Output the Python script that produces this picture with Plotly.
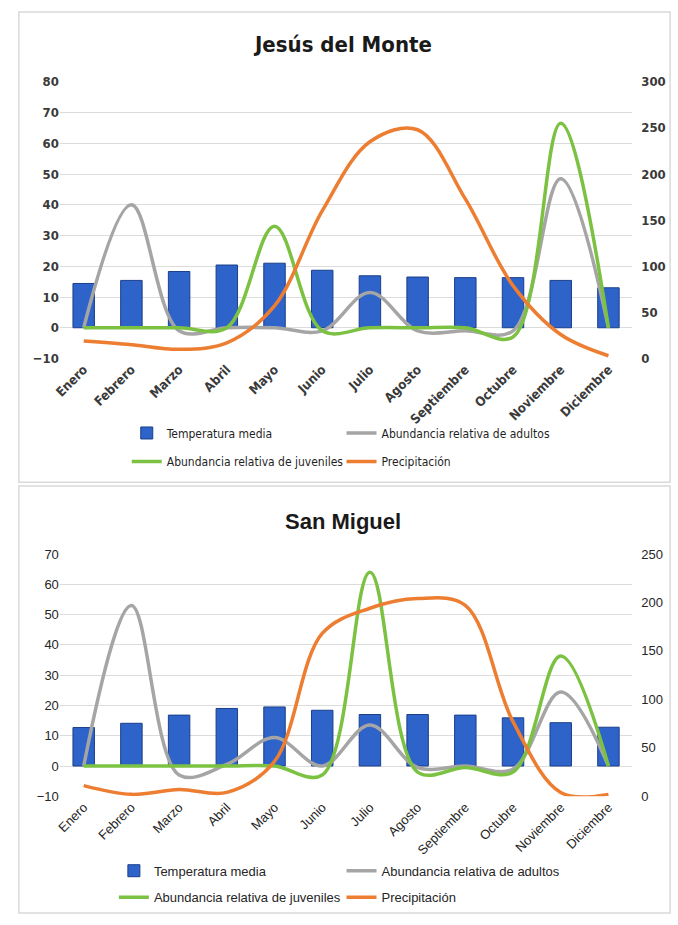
import plotly.graph_objects as go

W, H = 678, 925

meses = ["Enero", "Febrero", "Marzo", "Abril", "Mayo", "Junio", "Julio",
         "Agosto", "Septiembre", "Octubre", "Noviembre", "Diciembre"]

# Jesús del Monte
jm_temp = [14.4, 15.4, 18.3, 20.4, 21.0, 18.7, 16.9, 16.5, 16.3, 16.3, 15.4, 13.0]
jm_adultos = [0, 40, -1, 0, 0, -1, 11.5, -1, -1, -1, 48.5, 0]
jm_juveniles = [0, 0, 0, 0, 33, -1, 0, 0, 0, -3, 66.5, 0]
jm_precip = [19, 15, 10, 17, 57, 160, 235, 248, 173, 79, 26, 3]

# San Miguel
sm_temp = [12.7, 14.1, 16.8, 19.0, 19.5, 18.4, 17.0, 17.0, 16.8, 15.9, 14.3, 12.8]
sm_adultos = [0, 53, -3, 0.5, 9.4, 0, 13.5, -0.5, 0, -1, 24.4, 0]
sm_juveniles = [0, 0, 0, 0, 0, -3, 64, -2, -0.5, -2, 36.3, 0]
sm_precip = [11, 2, 7, 4, 36, 168, 194, 204, 197, 77, 4, 2]

names = ["Temperatura media", "Abundancia relativa de adultos",
         "Abundancia relativa de juveniles", "Precipitación"]

C_BAR = "#2E63C9"
C_BAR_LINE = "#1B3F88"
C_GRAY = "#A5A5A5"
C_GREEN = "#7CC242"
C_ORANGE = "#ED7D31"
GRID = "#DCDCDC"
TXT = "#3A3A3A"

NARROW = "DejaVu Sans Condensed, Liberation Sans Narrow, Liberation Sans, Arial"
ARIAL = "Liberation Sans, Arial"


def px_x(px):
    return px / W


def px_y(py):
    return 1 - py / H


fig = go.Figure()


def add_panel(temp, adultos, juveniles, precip, xa, ya, ya2, legs):
    fig.add_trace(go.Bar(x=meses, y=temp, name=names[0], xaxis=xa, yaxis=ya,
                         width=0.45, showlegend=True,
                         marker=dict(color=C_BAR, line=dict(color=C_BAR_LINE, width=1)),
                         legend=legs[0]))
    fig.add_trace(go.Scatter(x=meses, y=adultos, name=names[1], xaxis=xa, yaxis=ya,
                             mode="lines", showlegend=True,
                             line=dict(color=C_GRAY, width=3.5, shape="spline", smoothing=1.0),
                             legend=legs[1]))
    fig.add_trace(go.Scatter(x=meses, y=juveniles, name=names[2], xaxis=xa, yaxis=ya,
                             mode="lines", showlegend=True,
                             line=dict(color=C_GREEN, width=3.5, shape="spline", smoothing=1.0),
                             legend=legs[2]))
    fig.add_trace(go.Scatter(x=meses, y=precip, name=names[3], xaxis=xa, yaxis=ya2,
                             mode="lines", showlegend=True,
                             line=dict(color=C_ORANGE, width=3.5, shape="spline", smoothing=1.0),
                             legend=legs[3]))


add_panel(jm_temp, jm_adultos, jm_juveniles, jm_precip, "x", "y", "y2",
          ["legend", "legend2", "legend3", "legend4"])
add_panel(sm_temp, sm_adultos, sm_juveniles, sm_precip, "x2", "y3", "y4",
          ["legend5", "legend6", "legend7", "legend8"])

xdom = [px_x(53.4), px_x(631.8)]
top_dom = [px_y(357.3), px_y(76)]
bot_dom = [px_y(802.3), px_y(556)]

tick_top = dict(family=NARROW, size=13, color=TXT, weight="bold")
tick_bot = dict(family=ARIAL, size=13, color="#262626")


def leg(textx, y, font):
    return dict(orientation="h", x=px_x(textx - 43), xanchor="left", y=px_y(y),
                yanchor="middle", bgcolor="rgba(0,0,0,0)", font=font,
                itemwidth=30, tracegroupgap=0, visible=True)


leg_font_top = dict(family=NARROW, size=12, color="#1f1f1f")
leg_font_bot = dict(family=ARIAL, size=13, color="#262626")

fig.update_layout(
    width=W, height=H,
    margin=dict(l=0, r=0, t=0, b=0),
    paper_bgcolor="white", plot_bgcolor="white",
    barmode="overlay",
    showlegend=True,
    xaxis=dict(domain=xdom, anchor="y", type="category", tickangle=-45,
               tickfont=tick_top, showgrid=False, showline=False, ticks=""),
    yaxis=dict(domain=top_dom, range=[-10, 80], dtick=10, tickfont=tick_top,
               gridcolor=GRID, zeroline=False, showline=False),
    yaxis2=dict(overlaying="y", side="right", anchor="x", range=[0, 300], dtick=50,
                tickfont=tick_top, showgrid=False, zeroline=False, showline=False,
                ticklabelstandoff=8),
    xaxis2=dict(domain=xdom, anchor="y3", type="category", tickangle=-45,
                tickfont=tick_bot, showgrid=False, showline=False, ticks=""),
    yaxis3=dict(domain=bot_dom, range=[-10, 70], dtick=10, tickfont=tick_bot,
                gridcolor=GRID, zeroline=False, showline=False),
    yaxis4=dict(overlaying="y3", side="right", anchor="x2", range=[0, 250], dtick=50,
                tickfont=tick_bot, showgrid=False, zeroline=False, showline=False,
                ticklabelstandoff=8),
    legend=leg(164, 433, leg_font_top),
    legend2=leg(381, 433, leg_font_top),
    legend3=leg(164, 462, leg_font_top),
    legend4=leg(381, 462, leg_font_top),
    legend5=leg(151, 878, leg_font_bot),
    legend6=leg(381, 878, leg_font_bot),
    legend7=leg(151, 905, leg_font_bot),
    legend8=leg(381, 905, leg_font_bot),
    annotations=[
        dict(text="<b>Jesús del Monte</b>", x=0.5, y=px_y(38), xref="paper", yref="paper",
             yanchor="middle", showarrow=False,
             font=dict(family=NARROW, size=22, color="#1a1a1a")),
        dict(text="<b>San Miguel</b>", x=0.5, y=px_y(523), xref="paper", yref="paper",
             yanchor="middle", showarrow=False,
             font=dict(family=ARIAL, size=22, color="#1a1a1a")),
    ],
    shapes=[
        dict(type="rect", xref="paper", yref="paper", x0=px_x(12), x1=px_x(670),
             y0=px_y(483), y1=px_y(5), line=dict(color="#D9D9D9", width=1.5)),
        dict(type="rect", xref="paper", yref="paper", x0=px_x(12), x1=px_x(670),
             y0=px_y(921), y1=px_y(487), line=dict(color="#D9D9D9", width=1.5)),
    ],
)

fig.write_html(
    "out.html",
    config={"displayModeBar": False},
    post_script="document.body.style.margin='0';document.body.style.overflow='hidden';"
                "document.documentElement.style.overflow='hidden';",
)
